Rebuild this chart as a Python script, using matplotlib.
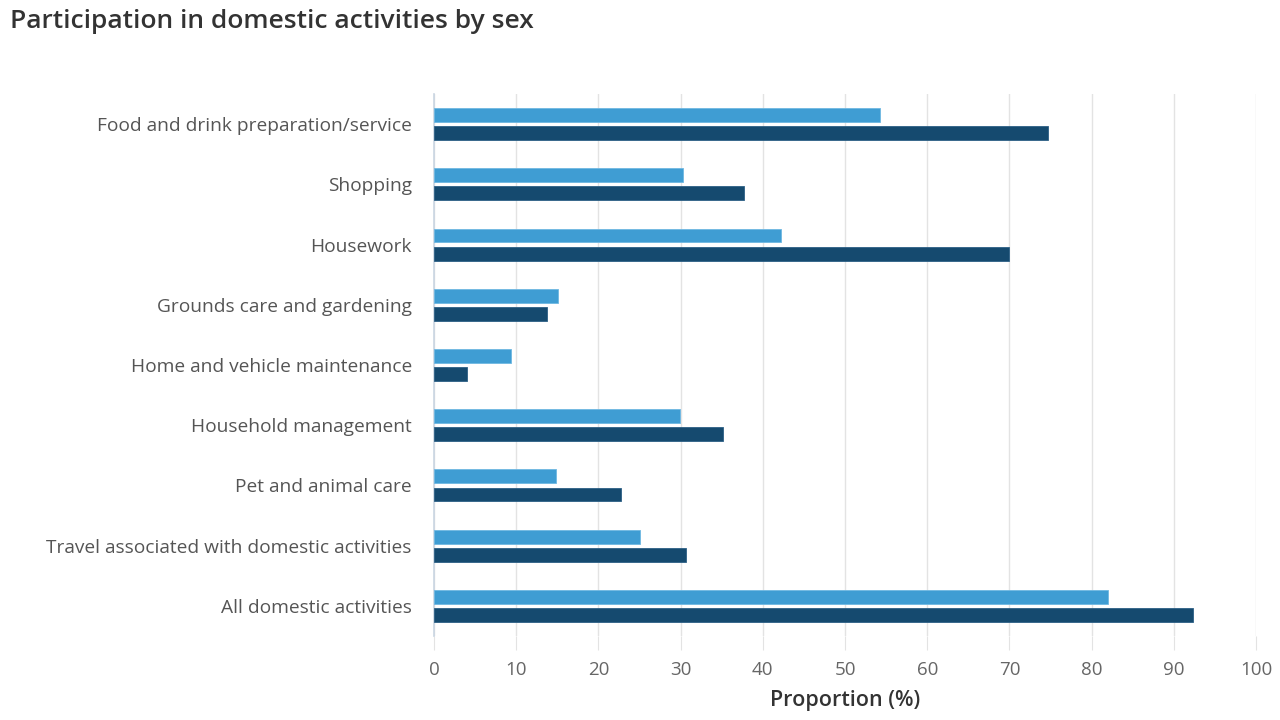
import numpy as np
from matplotlib import pyplot as plt

categories = ['Food and drink preparation/service', 'Shopping', 'Housework',
              'Grounds care and gardening', 'Home and vehicle maintenance',
              'Household management', 'Pet and animal care',
              'Travel associated with domestic activities', 'All domestic activities']
males = [54.3, 30.3, 42.2, 15.1, 9.4, 29.9, 14.8, 25.0, 82.0]
females = [74.7, 37.7, 69.9, 13.7, 4.0, 35.1, 22.7, 30.7, 92.3]
xticks = list(range(0, 101, 10))

light = '#3f9dd3'
dark = '#154a6f'
plt.rcParams['font.family'] = ['Open Sans', 'DejaVu Sans']

fig = plt.figure(figsize=(12.8, 7.2), dpi=100)
ax = fig.add_axes((434/1280, 1-636/720, 822/1280, 542/720))

y = np.arange(len(categories))
h = 0.23
ax.barh(y-0.15, males, height=h, color=light, edgecolor='#6fb8e2', linewidth=0.6, zorder=3)
ax.barh(y+0.15, females, height=h, color=dark, edgecolor='#2c5f85', linewidth=0.6, zorder=3)

ax.set_xlim(0, 100)
ax.set_ylim(len(categories)-0.5, -0.5)
ax.set_yticks(y)
ax.set_yticklabels(categories, fontsize=13.8, color='#555555')
ax.set_xticks(xticks)
ax.set_xticklabels([str(t) for t in xticks], fontsize=13.5, color='#666666')
ax.tick_params(axis='y', length=0, pad=16)
ax.tick_params(axis='x', length=10, color='#e3e3e3', pad=8)
ax.grid(axis='x', color='#e3e3e3', linewidth=1, zorder=0)
ax.grid(axis='y', visible=False)
for s in ['top', 'right', 'bottom']:
    ax.spines[s].set_visible(False)
ax.spines['left'].set_color('#c9d5e2')
ax.spines['left'].set_linewidth(1.2)
ax.set_xlabel('Proportion (%)', fontsize=15.5, color='#333333', fontweight='semibold', labelpad=8)

fig.text(10/1280, 1-22/720, 'Participation in domestic activities by sex', fontsize=19,
         color='#333333', va='center', ha='left', fontweight='semibold')

plt.savefig('out.png')
